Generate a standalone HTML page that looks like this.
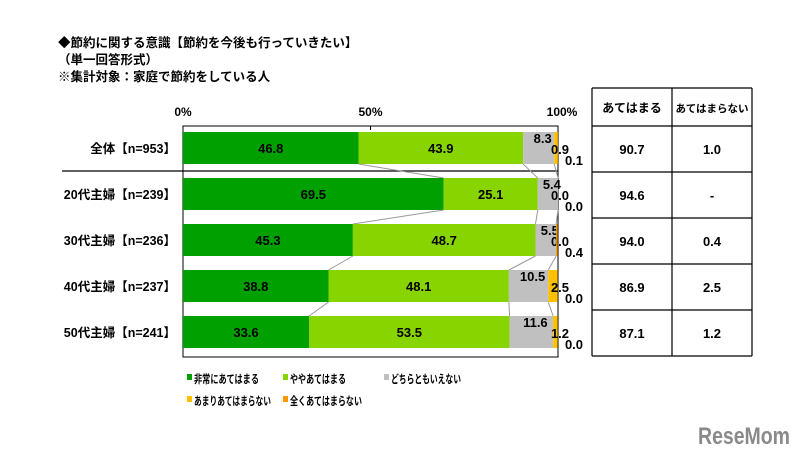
<!DOCTYPE html>
<html><head><meta charset="utf-8"><style>
body{margin:0;background:#fff;width:812px;height:455px;overflow:hidden;font-family:"Liberation Sans","Noto Sans CJK JP",sans-serif;}
svg text{font-family:"Liberation Sans","Noto Sans CJK JP",sans-serif;fill:#000;}
</style></head><body>
<svg id="c" width="812" height="455">
<g font-weight="bold" font-size="12.5">
<text x="58" y="47">◆節約に関する意識【節約を今後も行っていきたい】</text>
<text x="58" y="64">（単一回答形式）</text>
<text x="58" y="81">※集計対象：家庭で節約をしている人</text>
</g>
<g id="plot"></g>
<g id="tbl"></g>
<g id="leg"></g>
<text x="698" y="444" font-size="24" font-weight="bold" textLength="92" lengthAdjust="spacingAndGlyphs" style="fill:#8a8a8a">ReseMom</text>
</svg>
<script>
const categories=["全体【n=953】","20代主婦【n=239】","30代主婦【n=236】","40代主婦【n=237】","50代主婦【n=241】"];
const s1=[46.8,69.5,45.3,38.8,33.6];
const s2=[43.9,25.1,48.7,48.1,53.5];
const s3=[8.3,5.4,5.5,10.5,11.6];
const s4=[0.9,0.0,0.0,2.5,1.2];
const s5=[0.1,0.0,0.4,0.0,0.0];
const seriesNames=["非常にあてはまる","ややあてはまる","どちらともいえない","あまりあてはまらない","全くあてはまらない"];
const colors=["#00a000","#88d400","#c0c0c0","#ffc000","#ff9900"];
const ticks=[0,50,100];
const applies=["90.7","94.6","94.0","86.9","87.1"];
const notApplies=["1.0","-","0.4","2.5","1.2"];
const NS="http://www.w3.org/2000/svg";
function mk(p,t,a){const e=document.createElementNS(NS,t);for(const k in a)e.setAttribute(k,a[k]);p.appendChild(e);return e;}
const X0=183,X1=558,TOP=126,BOT=357,RH=46,BH=32;
const xs=v=>X0+(X1-X0)*v/100;
const yc=i=>TOP+22+i*RH;
const plot=document.getElementById('plot');
const series=[s1,s2,s3,s4,s5];
ticks.forEach(t=>{const e=mk(plot,'text',{x:xs(t)+(t==100?4:0),y:116,'text-anchor':'middle','font-size':'12','font-weight':'bold'});e.textContent=t+'%';

});
const box=mk(plot,'rect',{x:X0,y:TOP,width:X1-X0,height:BOT-TOP,fill:'none',stroke:'#000','stroke-width':1});


mk(plot,'line',{x1:xs(50),x2:xs(50),y1:TOP,y2:TOP+4,stroke:'#000'});
const sep=mk(plot,'line',{x1:62,x2:X1,y1:TOP+45,y2:TOP+45,stroke:'#000','stroke-width':1.2});


categories.forEach((c,i)=>{
 const y=yc(i);
 const lb=mk(plot,'text',{x:176,y:y+5,'text-anchor':'end','font-size':'12.5','font-weight':'bold'});lb.textContent=c;
 
 
 let cum=0;
 series.forEach((s,k)=>{
  const v=s[i];const x=xs(cum);const w=xs(cum+v)-x;
  const r=mk(plot,'rect',{x:x,y:y-BH/2,width:Math.max(w,0),height:BH,fill:colors[k]});
  
  
  cum+=v;
  const t=mk(plot,'text',{'font-size':'13','font-weight':'bold'});
  t.textContent=v.toFixed(1);
  
  
  if(k<2){t.setAttribute('x',x+w/2);t.setAttribute('y',y+5);t.setAttribute('text-anchor','middle');}
  else if(k==2){t.setAttribute('x',Math.min(x+w/2+4,X1-3));t.setAttribute('y',y-5);t.setAttribute('text-anchor','middle');}
  else if(k==3){t.setAttribute('x',X1+2);t.setAttribute('y',y+6);t.setAttribute('text-anchor','middle');}
  else{t.setAttribute('x',X1+16);t.setAttribute('y',y+17);t.setAttribute('text-anchor','middle');}
 });
 if(i<categories.length-1){
  let a=0,b=0;
  for(let k=0;k<3;k++){a+=series[k][i];b+=series[k][i+1];
   const l=mk(plot,'line',{x1:xs(a),y1:y+BH/2,x2:xs(b),y2:yc(i+1)-BH/2,stroke:'#999','stroke-width':1});
   
   }
 }
});
const tbl=document.getElementById('tbl');
const TX=[592,672,752];
const ys=[88,126,172,218,264,310,356];
ys.forEach(yy=>mk(tbl,'line',{x1:TX[0],x2:TX[2],y1:yy,y2:yy,stroke:'#000','stroke-width':1.2}));
TX.forEach(xx=>mk(tbl,'line',{x1:xx,x2:xx,y1:88,y2:356,stroke:'#000','stroke-width':1.2}));
[["あてはまる",12],["あてはまらない",10.5]].forEach((h,j)=>{const t=mk(tbl,'text',{x:(TX[j]+TX[j+1])/2,y:112,'text-anchor':'middle','font-size':h[1],'font-weight':'bold'});t.textContent=h[0];

});
categories.forEach((c,i)=>{[applies[i],notApplies[i]].forEach((v,j)=>{const t=mk(tbl,'text',{x:(TX[j]+TX[j+1])/2,y:(ys[i+1]+ys[i+2])/2+5,'text-anchor':'middle','font-size':'13','font-weight':'bold'});t.textContent=v;

});});
const leg=document.getElementById('leg');
const LP=[[187,379,65],[283,379,56],[384,379,70],[187,401,77],[283,401,72]];
seriesNames.forEach((n,k)=>{
 const g=mk(leg,'g',{});
 
 
 mk(g,'rect',{x:LP[k][0],y:LP[k][1]-5,width:5,height:6,fill:colors[k]});
 const t=mk(g,'text',{x:LP[k][0]+7,y:LP[k][1]+4,'font-size':'11.5','font-weight':'bold',textLength:LP[k][2],lengthAdjust:'spacingAndGlyphs'});t.textContent=n;
});
</script>
</body></html>
